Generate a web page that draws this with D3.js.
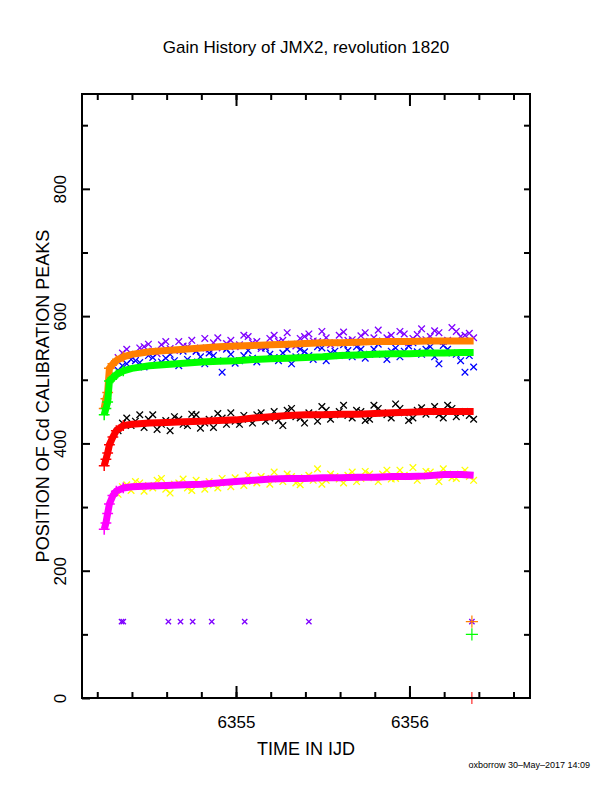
<!DOCTYPE html>
<html>
<head>
<meta charset="utf-8">
<script src="https://d3js.org/d3.v7.min.js"></script>
<style>
  body { margin: 0; background: #fff; }
  text { font-family: "Liberation Sans", Arial, sans-serif; }
</style>
</head>
<body>
<script>
// smooth fitted gain curves
var fitTimes = [6354.24, 6354.25, 6354.26, 6354.27, 6354.29, 6354.31, 6354.35, 6354.4, 6354.5, 6354.6, 6354.7, 6354.8, 6354.9, 6355.0, 6355.1, 6355.2, 6355.3, 6355.4, 6355.5, 6355.6, 6355.7, 6355.8, 6355.9, 6356.0, 6356.1, 6356.2, 6356.3, 6356.37];
var orangeFit = [455, 470, 480, 518, 525, 530, 536, 540, 544, 546, 548, 550, 552, 553, 554, 555, 556, 557, 558, 558, 559, 560, 560, 560, 561, 561, 561, 561];
var greenFit = [445, 455, 465, 498, 503, 508, 514, 518, 522, 524, 526, 528, 529, 530, 532, 533, 534, 535, 536, 538, 539, 540, 541, 541, 542, 542, 543, 543];
var redFit = [365, 375, 385, 398, 410, 420, 428, 430, 432, 433, 434, 435, 436, 437, 440, 442, 444, 445, 445, 446, 446, 447, 448, 449, 450, 450, 450, 450];
var magentaFit = [265, 275, 290, 305, 318, 325, 330, 332, 333, 334, 335, 336, 338, 340, 342, 344, 345, 345, 346, 346, 347, 347, 348, 348, 349, 351, 351, 350];

// scattered individual measurements (two interleaved passes)
var scatterTimes = [6354.32, 6354.37, 6354.42, 6354.47, 6354.52, 6354.57, 6354.62, 6354.67, 6354.72, 6354.77, 6354.82, 6354.87, 6354.92, 6354.97, 6355.02, 6355.07, 6355.12, 6355.17, 6355.22, 6355.27, 6355.32, 6355.37, 6355.42, 6355.47, 6355.52, 6355.57, 6355.62, 6355.67, 6355.72, 6355.77, 6355.82, 6355.87, 6355.92, 6355.97, 6356.02, 6356.07, 6356.12, 6356.17, 6356.22, 6356.27, 6356.32, 6356.37];
var scatterTimes2 = [6354.345, 6354.395, 6354.445, 6354.495, 6354.545, 6354.595, 6354.645, 6354.695, 6354.745, 6354.795, 6354.845, 6354.895, 6354.945, 6354.995, 6355.045, 6355.095, 6355.145, 6355.195, 6355.245, 6355.295, 6355.345, 6355.395, 6355.445, 6355.495, 6355.545, 6355.595, 6355.645, 6355.695, 6355.745, 6355.795, 6355.845, 6355.895, 6355.945, 6355.995, 6356.045, 6356.095, 6356.145, 6356.195, 6356.245, 6356.295, 6356.345];
var purpleVals = [535, 548, 540, 552, 545, 555, 549, 560, 552, 545, 565, 558, 550, 562, 555, 568, 560, 553, 570, 562, 556, 565, 572, 560, 566, 558, 575, 563, 569, 560, 578, 566, 560, 572, 565, 580, 568, 574, 562, 576, 570, 566];
var purpleVals2 = [542, 538, 550, 556, 541, 560, 546, 553, 562, 550, 548, 566, 557, 552, 570, 558, 549, 565, 560, 574, 553, 568, 561, 576, 555, 570, 562, 558, 574, 566, 561, 570, 576, 558, 571, 563, 577, 560, 582, 568, 573];
var blueVals = [515, 525, 530, 520, 535, 528, 540, 522, 532, 545, 525, 538, 512, 540, 530, 546, 528, 550, 535, 542, 525, 548, 538, 552, 530, 545, 555, 536, 548, 540, 556, 532, 550, 545, 558, 540, 552, 525, 548, 540, 512, 520];
var blueVals2 = [522, 532, 527, 538, 524, 534, 530, 545, 528, 536, 542, 530, 548, 526, 538, 534, 552, 540, 530, 548, 536, 544, 532, 550, 542, 538, 546, 552, 534, 548, 540, 545, 536, 553, 544, 548, 536, 554, 542, 530, 538];
var blackVals = [420, 440, 435, 425, 445, 430, 420, 438, 428, 445, 432, 425, 440, 448, 430, 438, 445, 435, 450, 428, 455, 440, 448, 435, 452, 445, 460, 440, 450, 438, 455, 445, 462, 448, 440, 456, 450, 445, 460, 442, 450, 438];
var blackVals2 = [432, 428, 445, 438, 422, 436, 442, 430, 446, 424, 438, 447, 430, 435, 444, 432, 448, 440, 436, 452, 442, 432, 446, 458, 438, 450, 444, 452, 436, 460, 448, 440, 455, 436, 452, 446, 458, 440, 455, 448, 444];
var yellowVals = [320, 335, 340, 325, 330, 345, 322, 338, 330, 342, 328, 335, 345, 332, 340, 350, 338, 345, 355, 340, 348, 335, 350, 360, 342, 348, 338, 355, 345, 352, 340, 358, 345, 350, 362, 348, 355, 340, 352, 345, 358, 342];
var yellowVals2 = [332, 326, 338, 334, 342, 328, 336, 344, 326, 336, 340, 330, 338, 346, 334, 340, 348, 336, 344, 352, 338, 346, 342, 336, 352, 344, 350, 340, 356, 346, 352, 344, 358, 348, 342, 356, 350, 360, 346, 352, 348];

// low outliers
var outlierTimes = [6354.34, 6354.35, 6354.61, 6354.68, 6354.75, 6354.86, 6355.05, 6355.42, 6356.36];
var outlierVals = [120, 120, 120, 120, 120, 120, 120, 120, 120];

var xTicks = [6355, 6356];

var W = 612, H = 792;
var pLeft = 82, pRight = 530, pTop = 94, pBottom = 698;

var svg = d3.select("body").append("svg")
    .attr("width", W)
    .attr("height", H);

var x = d3.scaleLinear().domain([6354.112, 6356.695]).range([pLeft, pRight]);
var y = d3.scaleLinear().domain([0, 949]).range([pBottom, pTop]);

function fitLine(vals, color) {
    var pts = d3.zip(fitTimes, vals);
    svg.append("path")
        .attr("d", d3.line().x(function(d) { return x(d[0]); }).y(function(d) { return y(d[1]); })(pts))
        .attr("fill", "none")
        .attr("stroke", color)
        .attr("stroke-width", 7);
    svg.selectAll(null)
        .data(pts.slice(0, 7))
        .enter()
        .append("path")
        .attr("transform", function(d) { return "translate(" + x(d[0]) + "," + y(d[1]) + ")"; })
        .attr("d", d3.symbol().type(d3.symbolPlus).size(40))
        .attr("fill", "none")
        .attr("stroke", color)
        .attr("stroke-width", 1.5);
}

function scatter(times, vals, color, size) {
    svg.selectAll(null)
        .data(d3.zip(times, vals))
        .enter()
        .append("path")
        .attr("transform", function(d) { return "translate(" + x(d[0]) + "," + y(d[1]) + ")"; })
        .attr("d", d3.symbol().type(d3.symbolTimes).size(size))
        .attr("fill", "none")
        .attr("stroke", color)
        .attr("stroke-width", 1.3);
}

scatter(scatterTimes, purpleVals, "#7f00ff", 30);
scatter(scatterTimes2, purpleVals2, "#7f00ff", 30);
scatter(scatterTimes, blueVals, "#0000ff", 30);
scatter(scatterTimes2, blueVals2, "#0000ff", 30);
scatter(scatterTimes, blackVals, "#000000", 30);
scatter(scatterTimes2, blackVals2, "#000000", 30);
scatter(scatterTimes, yellowVals, "#ffff00", 30);
scatter(scatterTimes2, yellowVals2, "#ffff00", 30);
fitLine(orangeFit, "#ff7f00");
fitLine(greenFit, "#00ff00");
fitLine(redFit, "#ff0000");
fitLine(magentaFit, "#ff00ff");
scatter(outlierTimes, outlierVals, "#7f00ff", 20);

// end-of-data markers
var last = fitTimes[fitTimes.length - 1] - 0.01;
[[120, "#ff7f00"], [100, "#00ff00"]].forEach(function(m) {
    svg.append("path")
        .attr("transform", "translate(" + x(last) + "," + y(m[0]) + ")")
        .attr("d", d3.symbol().type(d3.symbolPlus).size(50))
        .attr("fill", "none")
        .attr("stroke", m[1])
        .attr("stroke-width", 1.2);
});
svg.append("line")
    .attr("x1", x(last)).attr("x2", x(last))
    .attr("y1", y(0) - 6).attr("y2", y(0) + 6)
    .attr("stroke", "#ff0000");

// frame
svg.append("rect")
    .attr("x", pLeft).attr("y", pTop)
    .attr("width", pRight - pLeft).attr("height", pBottom - pTop)
    .attr("fill", "none").attr("stroke", "#000").attr("stroke-width", 2);

// axes
var minorX = d3.range(6354.2, 6356.7, 0.2);
svg.append("g").attr("transform", "translate(0," + pBottom + ")")
    .call(d3.axisBottom(x).tickValues(minorX).tickSize(-6).tickFormat(""));
svg.append("g").attr("transform", "translate(0," + pTop + ")")
    .call(d3.axisTop(x).tickValues(minorX).tickSize(-6).tickFormat(""));
svg.append("g").attr("transform", "translate(0," + pBottom + ")")
    .call(d3.axisBottom(x).tickValues(xTicks).tickSize(-12).tickPadding(18).tickFormat(d3.format("d")));
svg.append("g").attr("transform", "translate(0," + pTop + ")")
    .call(d3.axisTop(x).tickValues(xTicks).tickSize(-12).tickFormat(""));
var yAxis = svg.append("g").attr("transform", "translate(" + pLeft + ",0)")
    .call(d3.axisLeft(y).tickValues(d3.range(0, 901, 200)).tickSize(-8).tickFormat(function(d) { return d; }));
svg.append("g").attr("transform", "translate(" + pRight + ",0)")
    .call(d3.axisRight(y).tickValues(d3.range(100, 901, 100)).tickSize(-6).tickFormat(""));
svg.append("g").attr("transform", "translate(" + pLeft + ",0)")
    .call(d3.axisLeft(y).tickValues(d3.range(100, 901, 200)).tickSize(-6).tickFormat(""));

svg.selectAll(".domain").remove();
svg.selectAll(".tick line").attr("stroke-width", 2);
svg.selectAll(".tick text").attr("font-size", 17).attr("fill", "#000");
yAxis.selectAll(".tick text")
    .attr("transform", "rotate(-90)").attr("x", 0).attr("y", -16).attr("dy", "0").attr("text-anchor", "middle");

// labels
svg.append("text").attr("x", 306).attr("y", 53).attr("text-anchor", "middle")
    .attr("font-size", 17).text("Gain History of JMX2, revolution 1820");
svg.append("text").attr("x", 306).attr("y", 755).attr("text-anchor", "middle")
    .attr("font-size", 18).text("TIME IN IJD");
svg.append("text").attr("transform", "translate(49,396) rotate(-90)").attr("text-anchor", "middle")
    .attr("font-size", 18).text("POSITION OF Cd CALIBRATION PEAKS");
svg.append("text").attr("x", 590).attr("y", 768).attr("text-anchor", "end")
    .attr("font-size", 9).text("oxborrow 30\u2013May\u20132017 14:09");
</script>
</body>
</html>
